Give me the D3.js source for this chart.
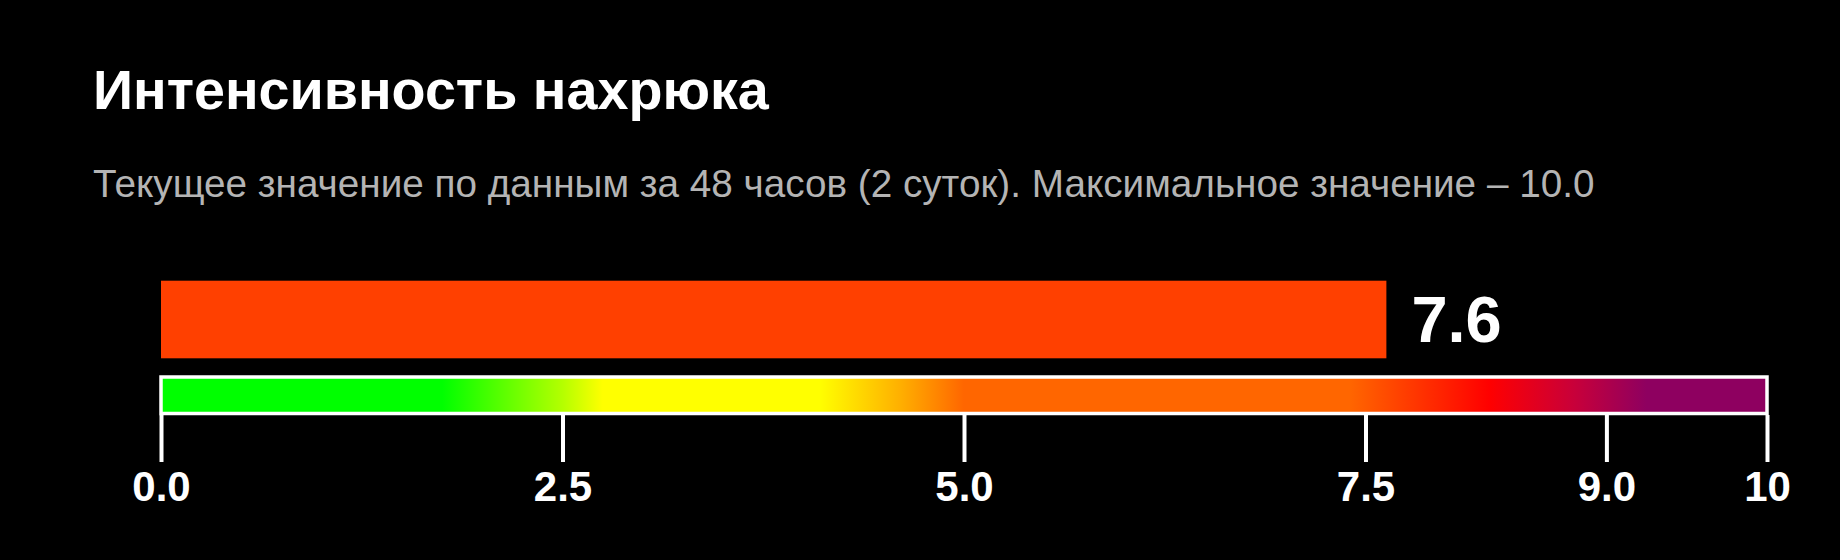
<!DOCTYPE html>
<html>
<head>
<meta charset="utf-8">
<script src="https://cdn.jsdelivr.net/npm/d3@7/dist/d3.min.js"></script>
<style>
  html, body { margin: 0; padding: 0; background: #000; }
  svg { display: block; }
  text { font-family: "Liberation Sans", Arial, sans-serif; }
</style>
</head>
<body>
<svg id="chart" width="1840" height="560"></svg>
<script>
// ---- data ----
const titleText = "Интенсивность нахрюка";
const subtitleText = "Текущее значение по данным за 48 часов (2 суток). Максимальное значение – 10.0";
const categories = ["Интенсивность"];
const values = [7.63];
const domainMax = 10;
const tickValues = [0, 2.5, 5, 7.5, 9, 10];
const tickLabels = ["0.0", "2.5", "5.0", "7.5", "9.0", "10"];
const stopValues = [0, 1.75, 2.5, 2.75, 4.1, 4.6, 5.0, 7.4, 8.27, 8.8, 9.25, 10];
const stopColors = ["#00ff00", "#00ff00", "#b4ff00", "#ffff00", "#ffff00", "#ffb000", "#ff6600", "#ff6600", "#ff0000", "#c8003a", "#8e0060", "#8e0060"];
const barColor = "#ff4000";

// ---- layout ----
const svg = d3.select("#chart");
const W = 1840, H = 560;
svg.append("rect").attr("width", W).attr("height", H).attr("fill", "#000");

const x = d3.scaleLinear().domain([0, domainMax]).range([161, 1767]);
const y = d3.scaleBand().domain(categories).range([280.7, 358.3]).padding(0);

svg.append("text")
  .attr("x", 93).attr("y", 109)
  .attr("fill", "#fff").attr("font-size", 55.7).attr("font-weight", "bold")
  .text(titleText);

svg.append("text")
  .attr("x", 93).attr("y", 196.5)
  .attr("fill", "#b4b4b4").attr("font-size", 38.7)
  .text(subtitleText);

// value bar
svg.selectAll("rect.bar").data(values).join("rect")
  .attr("class", "bar")
  .attr("x", x(0))
  .attr("y", (d, i) => y(categories[i]))
  .attr("width", d => x(d) - x(0))
  .attr("height", y.bandwidth())
  .attr("fill", barColor);

svg.selectAll("text.val").data(values).join("text")
  .attr("class", "val")
  .attr("x", d => x(d) + 25)
  .attr("y", 342)
  .attr("fill", "#fff").attr("font-size", 65).attr("font-weight", "bold")
  .text(d => d3.format(".1f")(d));

// gradient scale bar
const defs = svg.append("defs");
const grad = defs.append("linearGradient").attr("id", "grad")
  .attr("gradientUnits", "userSpaceOnUse")
  .attr("x1", x(0)).attr("x2", x(domainMax)).attr("y1", 0).attr("y2", 0);
grad.selectAll("stop").data(stopValues).join("stop")
  .attr("offset", d => d / domainMax)
  .attr("stop-color", (d, i) => stopColors[i]);

svg.append("rect")
  .attr("x", x(0)).attr("y", 377)
  .attr("width", x(domainMax) - x(0)).attr("height", 36.5)
  .attr("fill", "url(#grad)")
  .attr("stroke", "#fff").attr("stroke-width", 3.5);

// axis
const axis = d3.axisBottom(x)
  .tickValues(tickValues)
  .tickFormat((d, i) => tickLabels[i])
  .tickSize(47)
  .tickPadding(8);

const gAxis = svg.append("g").attr("transform", "translate(0,415)").call(axis);
gAxis.select(".domain").remove();
gAxis.selectAll(".tick line").attr("stroke", "#fff").attr("stroke-width", 4);
gAxis.selectAll(".tick text")
  .attr("fill", "#fff")
  .attr("font-size", 42)
  .attr("font-weight", "bold")
  .attr("font-family", "'Liberation Sans', Arial, sans-serif")
  .attr("dy", null)
  .attr("y", 85.5);
</script>
</body>
</html>
